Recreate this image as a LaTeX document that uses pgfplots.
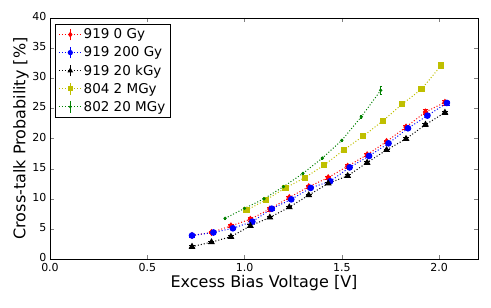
\documentclass[border=0pt]{standalone}
\usepackage{pgfplots}
\pgfplotsset{compat=1.18}
\usepackage{fontspec}
\setmainfont{DejaVu Sans}
\definecolor{myyellow}{rgb}{0.75,0.75,0}
\definecolor{mygreen}{rgb}{0,0.5,0}
\begin{document}
\begin{tikzpicture}
\begin{axis}[
  scale only axis, width=428pt, height=241pt,
  xmin=0, xmax=2.2, ymin=0, ymax=40,
  xtick={0,0.5,1,1.5,2}, ytick={0,5,...,40},
  xticklabels={0.0,0.5,1.0,1.5,2.0},
  tick align=inside, tick pos=both,
  major tick length=4pt,
  /pgf/number format/assume math mode=true,
  ticklabel style={font=\fontsize{11}{12}\selectfont},
  yticklabel style={yshift=1.5pt},
  xticklabel style={yshift=-0.5pt},
  xlabel={Excess Bias Voltage [V]}, ylabel={Cross-talk Probability [\%]},
  label style={font=\fontsize{16}{18}\selectfont},
  xlabel style={yshift=3pt}, ylabel style={yshift=-3pt},
  axis line style={line width=0.6pt},
  legend pos=north west,
  legend style={font=\fontsize{13.5}{15}\selectfont, draw=black, line width=0.6pt,
    inner xsep=3pt, inner ysep=3pt, row sep=3.5pt, at={(0.012,0.975)},
    nodes={inner sep=1.5pt}},
  legend cell align=left,
  legend image code/.code={
    \draw[dotted, line width=1pt] (0cm,0cm) -- (0.8cm,0cm);
    \draw[solid, line width=0.8pt] (0.4cm,-0.2cm) -- (0.4cm,0.2cm);
    \draw[solid, every mark/.append style={scale=0.75}] plot coordinates {(0.4cm,0cm)};
  },
  every axis plot/.append style={dotted, line width=1pt},
  error bars/error bar style={solid, line width=0.8pt},
]
\addplot+[red, mark=diamond*, mark size=2.8pt, mark options={solid, fill=red},
  error bars/.cd, y dir=both, y explicit]
coordinates {
 (0.73,3.9) +- (0,0.2) (0.83,4.4) +- (0,0.2) (0.93,5.5) +- (0,0.3) (1.03,6.6) +- (0,0.3)
 (1.13,8.3) +- (0,0.3) (1.23,10.2) +- (0,0.3) (1.33,12.0) +- (0,0.3) (1.43,13.5) +- (0,0.3)
 (1.53,15.4) +- (0,0.3) (1.63,17.3) +- (0,0.3) (1.73,19.5) +- (0,0.3) (1.83,21.9) +- (0,0.3)
 (1.93,24.4) +- (0,0.4) (2.03,26.0) +- (0,0.4)
};
\addlegendentry{919 0 Gy}
\addplot+[blue, mark=*, mark size=2.8pt, mark options={solid, fill=blue},
  error bars/.cd, y dir=both, y explicit]
coordinates {
 (0.73,3.9) +- (0,0.2) (0.84,4.4) +- (0,0.2) (0.94,5.1) +- (0,0.2) (1.04,6.2) +- (0,0.2)
 (1.14,8.35) +- (0,0.2) (1.24,9.9) +- (0,0.2) (1.34,11.8) +- (0,0.2) (1.44,12.9) +- (0,0.2)
 (1.54,15.2) +- (0,0.2) (1.64,17.1) +- (0,0.2) (1.74,19.2) +- (0,0.2) (1.84,21.7) +- (0,0.2)
 (1.94,23.8) +- (0,0.3) (2.04,25.9) +- (0,0.3)
};
\addlegendentry{919 200 Gy}
\addplot+[black, mark=triangle*, mark size=3pt, mark options={solid, fill=black},
  error bars/.cd, y dir=both, y explicit]
coordinates {
 (0.73,2.05) +- (0,0.2) (0.83,2.8) +- (0,0.2) (0.93,3.7) +- (0,0.2) (1.03,5.5) +- (0,0.2)
 (1.13,6.9) +- (0,0.2) (1.23,8.6) +- (0,0.2) (1.33,10.6) +- (0,0.2) (1.43,12.55) +- (0,0.2)
 (1.53,13.8) +- (0,0.2) (1.63,16.0) +- (0,0.2) (1.73,18.1) +- (0,0.2) (1.83,19.95) +- (0,0.2)
 (1.93,22.3) +- (0,0.3) (2.03,24.3) +- (0,0.3)
};
\addlegendentry{919 20 kGy}
\addplot+[myyellow, mark=square*, mark size=2.6pt, mark options={solid, fill=myyellow},
  error bars/.cd, y dir=both, y explicit]
coordinates {
 (1.01,8.1) +- (0,0.2) (1.11,9.8) +- (0,0.2) (1.21,11.8) +- (0,0.2) (1.31,13.5) +- (0,0.2)
 (1.41,15.6) +- (0,0.2) (1.51,18.1) +- (0,0.2) (1.61,20.4) +- (0,0.2) (1.71,22.9) +- (0,0.2)
 (1.81,25.7) +- (0,0.2) (1.91,28.2) +- (0,0.2) (2.01,32.1) +- (0,0.2)
};
\addlegendentry{804 2 MGy}
\addplot+[mygreen, mark=*, mark size=1.1pt, mark options={solid, fill=mygreen},
  error bars/.cd, y dir=both, y explicit]
coordinates {
 (0.90,6.75) +- (0,0.1) (1.00,8.4) +- (0,0.1) (1.10,10.0) +- (0,0.1) (1.20,12.0) +- (0,0.1)
 (1.30,14.2) +- (0,0.15) (1.40,16.75) +- (0,0.15) (1.50,19.7) +- (0,0.2) (1.60,23.6) +- (0,0.3)
 (1.70,28.0) +- (0,0.7)
};
\addlegendentry{802 20 MGy}
\end{axis}
\path (current axis.south west) ++(-50pt,-48pt) (current axis.north east) ++(13pt,18pt);
\end{tikzpicture}
\end{document}
